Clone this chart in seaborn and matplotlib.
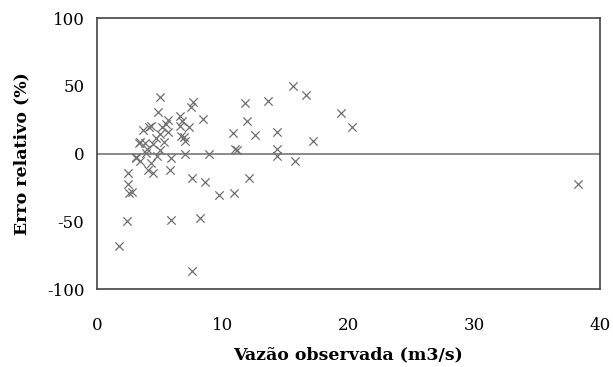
import matplotlib
matplotlib.use("Agg")
import matplotlib.pyplot as plt
import seaborn as sns
import pandas as pd

vazao = [1.74, 2.39, 2.5, 2.48, 2.57, 2.79, 3.1, 3.41, 3.38, 3.44, 3.69, 3.81, 3.94, 4.06,
         4.16, 4.28, 4.34, 4.47, 4.71, 4.81, 4.87, 5.02, 5.0, 5.15, 5.36, 5.49, 5.64, 5.67,
         5.82, 5.89, 5.92, 6.57, 6.64, 6.67, 6.79, 6.91, 6.98, 7.04, 7.29, 7.5, 7.63, 7.57,
         7.53, 8.16, 8.4, 8.59, 8.93, 9.74, 10.85, 10.88, 11.0, 11.16, 11.78, 11.97, 12.06,
         12.59, 13.58, 14.33, 14.29, 14.29, 15.6, 15.72, 16.62, 17.18, 19.44, 20.31, 38.26,
         4.48, 3.15, 5.0, 3.95]
erro = [-67.9, -49.9, -14.1, -22.1, -29.4, -28.0, -3.6, -5.6, 7.8, 8.8, 17.5, 7.8, 0.5, -12.4,
        20.0, 20.7, -6.8, -14.6, 11.2, -1.9, 30.4, 41.8, 2.9, 19.7, 8.5, 22.1, 24.8, 16.3,
        -12.4, -48.9, -3.2, 28.0, 20.7, 12.7, 24.1, 11.9, 9.0, -0.2, 20.0, 34.3, 38.2, -18.0,
        -86.4, -47.9, 25.8, -20.7, -0.2, -30.9, 15.1, -29.2, 3.2, 2.4, 37.5, 24.1, -18.2,
        13.9, 38.7, 16.3, 3.4, -1.9, 49.9, -5.8, 43.3, 9.5, 29.7, 20.0, -22.1,
        7.1, -2.7, 14.5, 3.4]

x_ticks = [0, 10, 20, 30, 40]
y_ticks = [-100, -50, 0, 50, 100]
x_label = "Vazão observada (m3/s)"
y_label = "Erro relativo (%)"

df = pd.DataFrame({"vazao": vazao, "erro": erro})

sns.set_style("white")
plt.rcParams['font.family'] = ['DejaVu Serif']

fig = plt.figure(figsize=(6.13, 3.67), dpi=100)
ax = fig.add_axes([0.158, 0.2125, 0.821, 0.738])

ax.axhline(0, color="#777777", lw=1.2, zorder=1)
sns.scatterplot(data=df, x="vazao", y="erro", marker="x", color="#707070",
                s=36, linewidth=0.9, ax=ax, zorder=2)

ax.set_xlim(0, 40)
ax.set_ylim(-100, 100)
ax.set_xticks(x_ticks)
ax.set_yticks(y_ticks)
ax.set_xticklabels([str(t) for t in x_ticks], fontsize=12, color="black")
ax.set_yticklabels([str(t) for t in y_ticks], fontsize=12, color="black")
ax.tick_params(axis="y", direction="out", length=5, width=1, color="#555555", pad=4)
ax.tick_params(axis="x", length=0, pad=20)
ax.set_xlabel(x_label, fontsize=12.5, fontweight="bold", labelpad=9, color="black")
ax.set_ylabel(y_label, fontsize=12.5, fontweight="bold", labelpad=12, color="black")
for s in ax.spines.values():
    s.set_color("#444444")
    s.set_linewidth(1.2)

fig.savefig("out.png", dpi=100)
